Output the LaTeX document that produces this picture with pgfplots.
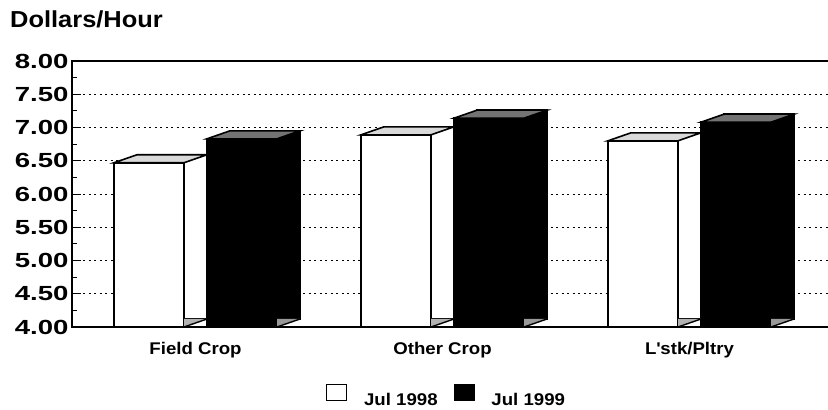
\documentclass[border=0pt]{standalone}
\usepackage{fontspec}
\setmainfont{Liberation Sans}[FakeStretch=1.1]
\newfontfamily\tickfont{Liberation Sans}[FakeStretch=1.35]
\usepackage{pgfplots}
\pgfplotsset{compat=1.18}
\usepackage{pgfplotstable}

% hourly wage rates, dollars
\pgfplotstableread{
x  a     b
0  6.47  6.83
1  6.89  7.14
2  6.80  7.08
}\wages

% top face of a box, drawn from the top centre of its front face
\pgfdeclareplotmark{topface}{%
  \pgfpathmoveto{\pgfpoint{-35bp}{0bp}}%
  \pgfpathlineto{\pgfpoint{35bp}{0bp}}%
  \pgfpathlineto{\pgfpoint{58bp}{8bp}}%
  \pgfpathlineto{\pgfpoint{-12bp}{8bp}}%
  \pgfpathclose
  \pgfusepathqfillstroke}
% bottom of the side face, at the floor
\pgfdeclareplotmark{floorface}{%
  \pgfpathmoveto{\pgfpoint{35bp}{0bp}}%
  \pgfpathlineto{\pgfpoint{58bp}{8bp}}%
  \pgfpathlineto{\pgfpoint{35bp}{8bp}}%
  \pgfpathclose
  \pgfusepathqfill
  \pgfpathmoveto{\pgfpoint{35bp}{0bp}}%
  \pgfpathlineto{\pgfpoint{58bp}{8bp}}%
  \pgfusepathqstroke}

\begin{document}
\begin{tikzpicture}
\begin{axis}[
  at={(72bp,83bp)}, anchor=south west,
  scale only axis, width=765.7bp, height=266bp,
  xmin=-0.5, xmax=2.6, ymin=0, ymax=4,
  ytick={0,0.5,1,1.5,2,2.5,3,3.5,4},
  yticklabels={4.00,4.50,5.00,5.50,6.00,6.50,7.00,7.50,8.00},
  minor y tick num=1,
  xtick={0,1,2},
  xticklabels={Field Crop, Other Crop, L\textquotesingle stk/Pltry},
  ytick pos=left,
  tick align=inside,
  major tick length=9bp, minor tick length=5bp,
  y tick style={black, line width=1bp},
  x tick style={draw=none},
  axis line style={line width=1.8bp},
  ymajorgrids,
  grid style={black, line width=0.9bp, dash pattern=on 2bp off 3.5bp},
  yticklabel style={font=\tickfont\bfseries\fontsize{20.5}{24}\selectfont},
  xticklabel style={font=\bfseries\fontsize{17}{20}\selectfont, anchor=base, yshift=-28bp},
  legend columns=2,
  legend style={at={(axis description cs:0.488,-0.258)}, anchor=center,
    draw=none, fill=none, inner sep=0pt,
    font=\bfseries\fontsize{17}{20}\selectfont,
    nodes={inner sep=0pt},
    /tikz/every odd column/.append style={column sep=17bp},
    /tikz/every even column/.append style={column sep=16bp}},
]
% Jul 1998
\addplot[ybar, bar width=70bp, bar shift=-46.5bp, xshift=23bp, yshift=8bp,
  fill=white, draw=black, line width=1.6bp, forget plot]
  table[x=x, y expr=\thisrow{a}-4] {\wages};
\addplot[ybar, bar width=70bp, bar shift=-46.5bp,
  fill=white, draw=black, line width=1.6bp,
  legend image code/.code={\draw[fill=white, line width=0.8bp] (0bp,-1bp) rectangle (20bp,15bp);}]
  table[x=x, y expr=\thisrow{a}-4] {\wages};
\addplot[only marks, mark=topface, xshift=-46.5bp,
  mark options={fill=black!15, draw=black, line width=1.6bp}, forget plot]
  table[x=x, y expr=\thisrow{a}-4] {\wages};
\addplot[only marks, mark=floorface, xshift=-46.5bp,
  mark options={fill=black!30, draw=black, line width=1.4bp}, forget plot]
  table[x=x, y expr=0] {\wages};
% Jul 1999
\addplot[ybar, bar width=70bp, bar shift=46.5bp, xshift=23bp, yshift=8bp,
  fill=black, draw=black, line width=1.6bp, forget plot]
  table[x=x, y expr=\thisrow{b}-4] {\wages};
\addplot[ybar, bar width=70bp, bar shift=46.5bp,
  fill=black, draw=black, line width=1.6bp,
  legend image code/.code={\draw[fill=black, line width=0.8bp] (0bp,-1bp) rectangle (20bp,15bp);}]
  table[x=x, y expr=\thisrow{b}-4] {\wages};
\addplot[only marks, mark=topface, xshift=46.5bp,
  mark options={fill=black!55, draw=black, line width=1.6bp}, forget plot]
  table[x=x, y expr=\thisrow{b}-4] {\wages};
\addplot[only marks, mark=floorface, xshift=46.5bp,
  mark options={fill=black!40, draw=black, line width=1.4bp}, forget plot]
  table[x=x, y expr=0] {\wages};
\legend{Jul 1998, Jul 1999}
\end{axis}
\node[anchor=base west, inner sep=0pt, font=\bfseries\fontsize{23.2}{26}\selectfont]
  at (10bp,382bp) {Dollars/Hour};
\pgfresetboundingbox
\useasboundingbox (0,0) rectangle (828bp,410bp);
\end{tikzpicture}
\end{document}
